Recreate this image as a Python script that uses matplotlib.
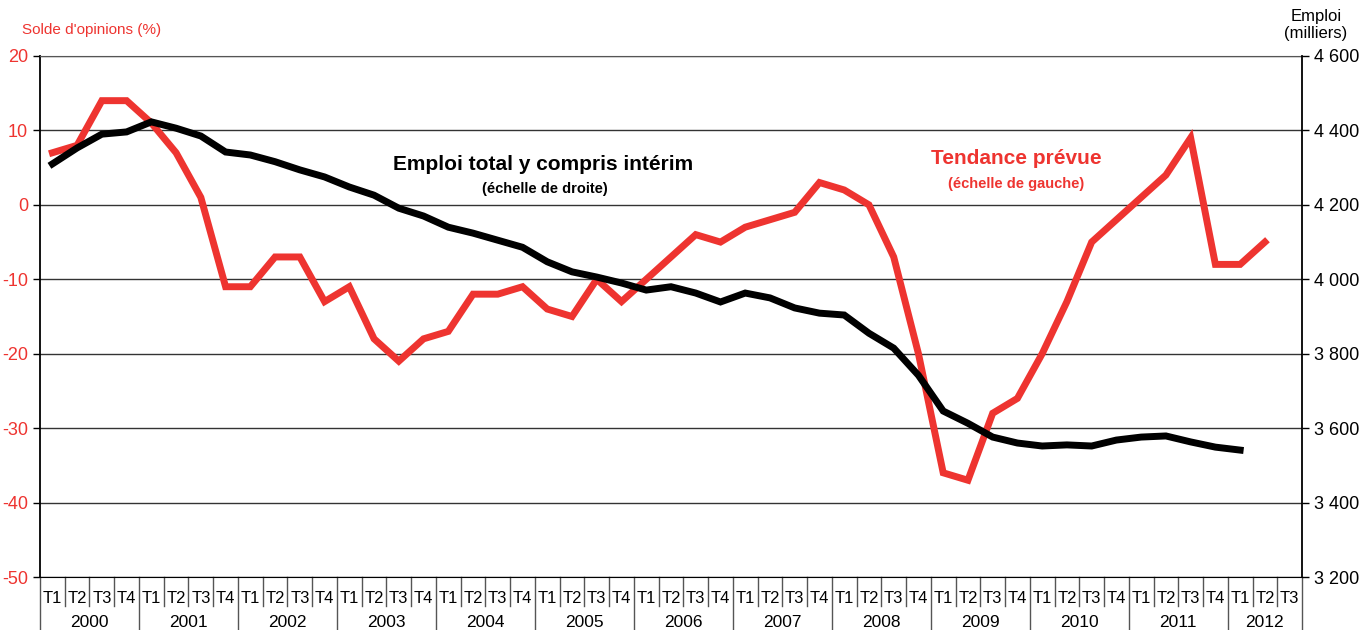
import numpy as np
import matplotlib
matplotlib.use("Agg")
import matplotlib.pyplot as plt
import matplotlib.transforms as mtransforms

plt.rcParams['font.family'] = ['Liberation Sans', 'DejaVu Sans']
plt.rcParams['axes.unicode_minus'] = False

# ---------------- données ----------------
years = ['2000', '2001', '2002', '2003', '2004', '2005', '2006',
         '2007', '2008', '2009', '2010', '2011', '2012']
quarters = ['T1', 'T2', 'T3', 'T4']
n_q = 51  # 2000 T1 -> 2012 T3

# Tendance prévue (solde d'opinions, %), échelle de gauche
tendance = [7, 8, 14, 14,
            11, 7, 1, -11,
            -11, -7, -7, -13,
            -11, -18, -21, -18,
            -17, -12, -12, -11,
            -14, -15, -10, -13,
            -10, -7, -4, -5,
            -3, -2, -1, 3,
            2, 0, -7, -20,
            -36, -37, -28, -26,
            -20, -13, -5, -2,
            1, 4, 9, -8,
            -8, -5]

# Emploi total y compris intérim (milliers), échelle de droite
emploi = [4310, 4353, 4390, 4396,
          4423, 4406, 4385, 4342,
          4334, 4316, 4294, 4275,
          4248, 4226, 4191, 4170,
          4140, 4124, 4105, 4086,
          4047, 4020, 4006, 3990,
          3971, 3980, 3963, 3939,
          3963, 3950, 3923, 3909,
          3904, 3855, 3815, 3742,
          3646, 3613, 3576, 3560,
          3552, 3555, 3552, 3568,
          3576, 3579, 3563, 3549,
          3541]

red = '#ee3430'

# ---------------- figure ----------------
fig = plt.figure(figsize=(13.69, 6.30), dpi=100)
ax = fig.add_axes([40 / 1369, 1 - 577 / 630, (1302 - 40) / 1369, (577 - 56) / 630])
ax2 = ax.twinx()

x_red = np.arange(len(tendance))
x_blk = np.arange(len(emploi))

ax.plot(x_red, tendance, color=red, lw=5, solid_joinstyle='miter', zorder=3)
ax2.plot(x_blk, emploi, color='black', lw=5, solid_joinstyle='miter', zorder=3)

ax.set_xlim(-0.5, n_q - 0.5)
ax.set_ylim(-50, 20)
ax.set_yticks(np.arange(-50, 21, 10))
ax2.set_ylim(3200, 4600)
ax2.set_yticks(np.arange(3200, 4601, 200))
ax2.set_yticklabels([f"{v // 1000} {v % 1000:03d}" for v in range(3200, 4601, 200)])

ax.yaxis.grid(True, color='#333333', lw=1.0)
ax.set_axisbelow(True)

ax.spines['top'].set_color('#555555')
ax2.spines['top'].set_visible(False)
ax.spines['right'].set_visible(False)
ax2.spines['left'].set_visible(False)
ax2.spines['bottom'].set_visible(False)
ax2.spines['right'].set_linewidth(1.3)
ax.spines['left'].set_linewidth(1.3)

ax.tick_params(axis='y', colors='black', labelcolor=red, labelsize=13, length=5, width=1)
ax2.tick_params(axis='y', colors='black', labelsize=13, length=5, width=1)

# axe des x : trimestres + années
ax.set_xticks(np.arange(n_q))
ax.set_xticklabels([quarters[i % 4] for i in range(n_q)], fontsize=12)
ax.tick_params(axis='x', length=0, pad=10)

trans = mtransforms.blended_transform_factory(ax.transData, ax.transAxes)
for i in range(n_q + 1):
    b = i - 0.5
    if i % 4 == 0 or i == n_q:
        ax.plot([b, b], [0, -0.11], transform=trans, color='#555555', lw=1, clip_on=False)
    else:
        ax.plot([b, b], [0, -0.055], transform=trans, color='#555555', lw=1, clip_on=False)

for k, yr in enumerate(years):
    first = 4 * k
    last = min(4 * k + 3, n_q - 1)
    ax.text((first + last) / 2, -0.088, yr, transform=trans, ha='center', va='center',
            fontsize=12.5)

# titres des axes
fig.text(22 / 1369, 1 - 30 / 630, "Solde d'opinions (%)", color=red, fontsize=11,
         ha='left', va='center')
fig.text(1316 / 1369, 1 - 25 / 630, "Emploi\n(milliers)", color='black', fontsize=12,
         ha='center', va='center', linespacing=1.1)

# annotations
fig.text(543 / 1369, 1 - 165 / 630, "Emploi total y compris intérim", fontsize=15,
         fontweight='bold', ha='center', va='center')
fig.text(545 / 1369, 1 - 189 / 630, "(échelle de droite)", fontsize=10.5,
         fontweight='bold', ha='center', va='center')
fig.text(1016 / 1369, 1 - 158 / 630, "Tendance prévue", fontsize=15, color=red,
         fontweight='bold', ha='center', va='center')
fig.text(1016 / 1369, 1 - 184 / 630, "(échelle de gauche)", fontsize=10.5, color=red,
         fontweight='bold', ha='center', va='center')

fig.savefig('out.png', dpi=100)
